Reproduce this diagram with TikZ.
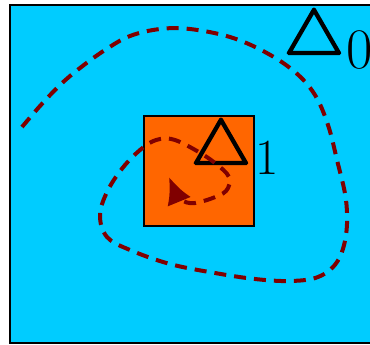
\documentclass[tikz,border=0pt]{standalone}
\usepackage{fontspec}
\newfontfamily\trifont[FakeBold=3]{Latin Modern Math}
\usetikzlibrary{arrows.meta}
\definecolor{bgcyan}{RGB}{0,204,255}
\definecolor{sqorange}{RGB}{255,102,0}
\definecolor{traj}{RGB}{128,0,0}
\tikzset{
  outerbox/.style={draw=black, line width=1.5pt, fill=bgcyan},
  innerbox/.style={draw=black, line width=1.6pt, fill=sqorange},
  trajline/.style={draw=traj, line width=3pt, dash pattern=on 9pt off 6pt},
  lbl/.style={inner sep=0pt, anchor=base west, text=black},
}
\begin{document}
\begin{tikzpicture}[x=0.75pt,y=-0.75pt]
\useasboundingbox (0,0) rectangle (370,344);
\clip (0,0) rectangle (370,344);
\path[outerbox] (10,5) rectangle (385,343);
\node[innerbox, minimum width=110*0.75pt, minimum height=110*0.75pt, anchor=north west, inner sep=0pt] (sq) at (143,115) {};
\node[lbl] (d0) at (284,54) {{\fontsize{46}{46}\trifont △}\hspace{2pt}\raisebox{-11pt}{\fontsize{43}{43}\selectfont 0}};
\node[lbl] (d1) at (191,164) {{\fontsize{46}{46}\trifont △}\hspace{4pt}\raisebox{-8pt}{\fontsize{38}{38}\selectfont 1}};
\coordinate (tip) at (169,177);
\draw[trajline, -{Latex[length=20pt,width=19pt]}] plot[smooth, tension=0.6] coordinates {
 (22,127) (40,106) (60,85) (80,68) (105,50) (130,36) (160,29) (190,29)
 (230,37) (265,52) (295,72) (315,95) (328,125) (337,160) (346,200)
 (346,235) (337,262) (318,277) (290,281) (255,279) (215,273) (170,264)
 (130,250) (107,237) (100,215) (108,190) (125,165) (145,146) (160,139)
 (175,140) (197,151) (215,163) (229,177) (226,191) (210,199) (195,203)}
 .. controls (183,205) and (176,194) .. (tip);
\end{tikzpicture}
\end{document}
